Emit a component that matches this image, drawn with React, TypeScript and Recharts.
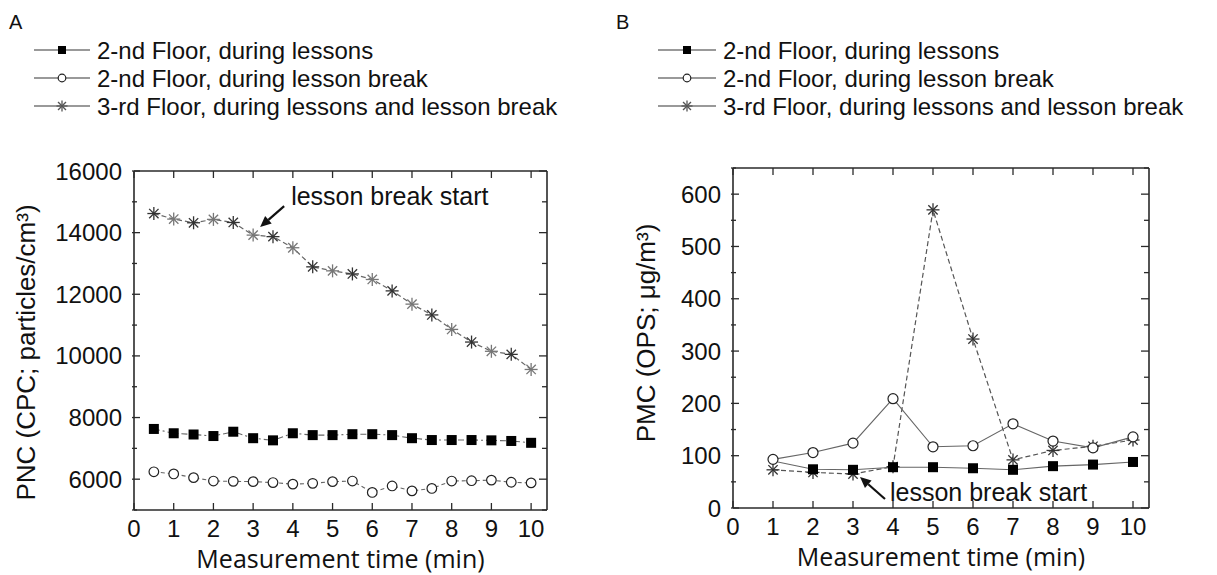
import React from 'react';
import { LineChart, Line, XAxis, YAxis, Legend, ReferenceDot } from 'recharts';

// ---------------- data ----------------
const timeA = [0.5, 1, 1.5, 2, 2.5, 3, 3.5, 4, 4.5, 5, 5.5, 6, 6.5, 7, 7.5, 8, 8.5, 9, 9.5, 10];
const floor2LessonsA = [7630, 7490, 7450, 7400, 7540, 7330, 7260, 7490, 7430, 7430, 7460, 7460, 7430, 7330, 7270, 7270, 7270, 7260, 7240, 7180];
const floor2BreakA = [6240, 6170, 6050, 5940, 5930, 5920, 5890, 5840, 5865, 5920, 5940, 5570, 5780, 5620, 5700, 5940, 5950, 5970, 5900, 5880];
const floor3A = [14620, 14440, 14320, 14430, 14330, 13920, 13870, 13510, 12890, 12760, 12660, 12480, 12110, 11680, 11330, 10860, 10450, 10150, 10050, 9560];

const timeB = [1, 2, 3, 4, 5, 6, 7, 8, 9, 10];
const floor2LessonsB = [90, 74, 73, 78, 78, 76, 73, 80, 83, 88];
const floor2BreakB = [93, 106, 124, 209, 117, 119, 161, 128, 115, 136];
const floor3B = [73, 68, 65, 79, 570, 323, 92, 110, 118, 130];

const seriesNames = [
  '2-nd Floor, during lessons',
  '2-nd Floor, during lesson break',
  '3-rd Floor, during lessons and lesson break',
];
const panelLetters = ['A', 'B'];
const xTicks = [0, 1, 2, 3, 4, 5, 6, 7, 8, 9, 10];
const yTicksA = [5000, 6000, 7000, 8000, 9000, 10000, 11000, 12000, 13000, 14000, 15000, 16000];
const yLabelsA = [6000, 8000, 10000, 12000, 14000, 16000];
const yTicksB = [0, 50, 100, 150, 200, 250, 300, 350, 400, 450, 500, 550, 600, 650];
const yLabelsB = [0, 100, 200, 300, 400, 500, 600];
const xTitle = 'Measurement time (min)';
const yTitleA = 'PNC (CPC; particles/cm³)';
const yTitleB = 'PMC (OPS; μg/m³)';
const annotation = 'lesson break start';
const breakStartA = { x: 3, y: 13920 };
const breakStartB = { x: 3, y: 65 };

const dataA = timeA.map((t, i) => ({ t, lessons: floor2LessonsA[i], brk: floor2BreakA[i], third: floor3A[i] }));
const dataB = timeB.map((t, i) => ({ t, lessons: floor2LessonsB[i], brk: floor2BreakB[i], third: floor3B[i] }));

// ---------------- styling ----------------
const FONT = '"Liberation Sans", Arial, Helvetica, sans-serif';
const TITLE_FONT = '"Open Sans", "Liberation Sans", sans-serif';
const AXIS = '#2a2a2a';
const GAP = 10;
const TICK_FS = 24;
const LEG_FS = 24;
const LEG_ROW0 = 50;
const LEG_STEP = 28;

// ---------------- markers ----------------
const SquareDot = (props: any) => {
  const { cx, cy, skipFirst, index, size = 10 } = props;
  if (cx == null || cy == null) return null;
  if (skipFirst && index === 0) return null;
  return <rect x={cx - size / 2} y={cy - size / 2} width={size} height={size} fill="#000" />;
};
const CircleDot = (props: any) => {
  const { cx, cy, r = 5 } = props;
  if (cx == null || cy == null) return null;
  return <circle cx={cx} cy={cy} r={r} fill="#fff" stroke="#222" strokeWidth={1.2} />;
};
const StarDot = (props: any) => {
  const { cx, cy, s = 6.5, color = '#333' } = props;
  if (cx == null || cy == null) return null;
  const d = s * 0.72;
  return (
    <g stroke={color} strokeWidth={1.3}>
      <line x1={cx - s} x2={cx + s} y1={cy} y2={cy} />
      <line x1={cx} x2={cx} y1={cy - s} y2={cy + s} />
      <line x1={cx - d} x2={cx + d} y1={cy - d} y2={cy + d} />
      <line x1={cx - d} x2={cx + d} y1={cy + d} y2={cy - d} />
    </g>
  );
};

// ---------------- ticks ----------------
const makeBottomTick = (len: number) => (props: any) => {
  const { x, y, payload, index } = props;
  const axisY = y - GAP;
  return (
    <g key={`b${index}`}>
      <line x1={x} x2={x} y1={axisY} y2={axisY - len} stroke={AXIS} strokeWidth={1.3} />
      <text x={x} y={y} dy="0.71em" textAnchor="middle" fontFamily={FONT} fontSize={TICK_FS} fill="#111">
        {payload.value}
      </text>
    </g>
  );
};
const makeLeftTick = (labels: number[]) => (props: any) => {
  const { x, y, payload, index } = props;
  const major = labels.includes(payload.value);
  const axisX = x + GAP;
  return (
    <g key={`l${index}`}>
      <line x1={axisX} x2={axisX + (major ? 8 : 5)} y1={y} y2={y} stroke={AXIS} strokeWidth={1.3} />
      {major && (
        <text x={x} y={y} dy="0.355em" textAnchor="end" fontFamily={FONT} fontSize={TICK_FS} fill="#111">
          {payload.value}
        </text>
      )}
    </g>
  );
};
const makeTopTick = (len: number) => (props: any) => {
  const { x, y, index } = props;
  return <line key={`t${index}`} x1={x} x2={x} y1={y} y2={y + len} stroke={AXIS} strokeWidth={1.3} />;
};
const makeRightTick = (labels: number[]) => (props: any) => {
  const { x, y, payload, index } = props;
  const major = labels.includes(payload.value);
  return <line key={`r${index}`} x1={x} x2={x - (major ? 8 : 5)} y1={y} y2={y} stroke={AXIS} strokeWidth={1.3} />;
};

// ---------------- titles ----------------
const XTitle = (props: any) => {
  const vb = props.viewBox || {};
  return (
    <text x={vb.x + vb.width / 2} y={vb.y + 58} textAnchor="middle" fontFamily={TITLE_FONT} fontSize={25} fill="#111">
      {props.text}
    </text>
  );
};
const YTitle = (props: any) => {
  const vb = props.viewBox || {};
  const cx = vb.x + props.dx;
  const cy = vb.y + vb.height / 2 + props.dy;
  return (
    <text x={cx} y={cy} transform={`rotate(-90 ${cx} ${cy})`} textAnchor="middle" dominantBaseline="central" fontFamily={FONT} fontSize={26} fill="#111">
      {props.text}
    </text>
  );
};

// ---------------- annotation ----------------
const Annotation = (props: any) => {
  const { cx, cy, tip, tail, textPos } = props;
  if (cx == null || cy == null) return null;
  const tx = cx + tip[0], ty = cy + tip[1];
  const sx = cx + tail[0], sy = cy + tail[1];
  const ang = Math.atan2(ty - sy, tx - sx);
  const L = 11, W = 5;
  const bx = tx - L * Math.cos(ang), by = ty - L * Math.sin(ang);
  const px = -Math.sin(ang) * W, py = Math.cos(ang) * W;
  return (
    <g>
      <line x1={sx} y1={sy} x2={bx} y2={by} stroke="#111" strokeWidth={2.2} />
      <polygon points={`${tx},${ty} ${bx + px},${by + py} ${bx - px},${by - py}`} fill="#111" />
      <text x={cx + textPos[0]} y={cy + textPos[1]} dy="0.36em" fontFamily={FONT} fontSize={25} fill="#111">
        {annotation}
      </text>
    </g>
  );
};

// ---------------- legend ----------------
const makeLegend = (cfg: any) => () => {
  const mid = (cfg.sym0 + cfg.sym1) / 2;
  return (
    <svg width={cfg.width} height={125} style={{ display: 'block' }}>
      <text x={cfg.letterX} y={22} dy="0.36em" fontFamily={FONT} fontSize={20} fill="#111">
        {cfg.letter}
      </text>
      {seriesNames.map((name, i) => {
        const y = LEG_ROW0 + i * LEG_STEP;
        return (
          <g key={name}>
            <line x1={cfg.sym0} x2={cfg.sym1} y1={y} y2={y} stroke="#777" strokeWidth={1.3} />
            {i === 0 && <SquareDot cx={mid} cy={y} size={8} />}
            {i === 1 && <CircleDot cx={mid} cy={y} r={3.8} />}
            {i === 2 && <StarDot cx={mid} cy={y} s={5.5} color="#555" />}
            <text x={cfg.textX} y={y} dy="0.36em" fontFamily={FONT} fontSize={LEG_FS} fill="#111">
              {name}
            </text>
          </g>
        );
      })}
    </svg>
  );
};

const legendProps = {
  layout: 'vertical' as const,
  align: 'center' as const,
  verticalAlign: 'middle' as const,
};

export default function App() {
  return (
    <div style={{ position: 'absolute', left: 0, top: 0, width: 1217, height: 575, background: '#fff', overflow: 'hidden' }}>
      {/* Panel A */}
      <div style={{ position: 'absolute', left: 0, top: 0 }}>
        <LineChart width={600} height={575} data={dataA} margin={{ top: 170, right: 52, bottom: 0, left: 0 }}>
          <Legend
            {...legendProps}
            content={makeLegend({ width: 600, letter: panelLetters[0], letterX: 9, sym0: 34, sym1: 90, textX: 97 })}
            wrapperStyle={{ left: 0, top: 0, width: 600, height: 125 }}
          />
          <XAxis
            type="number"
            dataKey="t"
            domain={[0, 10.4]}
            ticks={xTicks}
            interval={0}
            allowDataOverflow
            height={65}
            tickSize={0}
            tickMargin={GAP}
            tickLine={false}
            axisLine={{ stroke: AXIS, strokeWidth: 1.6 }}
            tick={makeBottomTick(7)}
            label={<XTitle text={xTitle} />}
          />
          <XAxis
            xAxisId="top"
            orientation="top"
            type="number"
            dataKey="t"
            domain={[0, 10.4]}
            ticks={xTicks}
            interval={0}
            allowDataOverflow
            height={1}
            tickSize={0}
            tickMargin={0}
            tickLine={false}
            axisLine={{ stroke: AXIS, strokeWidth: 1.6 }}
            tick={makeTopTick(7)}
          />
          <YAxis
            type="number"
            domain={[5000, 16000]}
            ticks={yTicksA}
            interval={0}
            allowDataOverflow
            width={134}
            tickSize={0}
            tickMargin={12}
            tickLine={false}
            axisLine={{ stroke: AXIS, strokeWidth: 1.6 }}
            tick={makeLeftTick(yLabelsA)}
            label={<YTitle text={yTitleA} dx={26} dy={12} />}
          />
          <YAxis
            yAxisId="right"
            orientation="right"
            type="number"
            domain={[5000, 16000]}
            ticks={yTicksA}
            interval={0}
            allowDataOverflow
            width={1}
            tickSize={0}
            tickMargin={0}
            tickLine={false}
            axisLine={{ stroke: AXIS, strokeWidth: 1.6 }}
            tick={makeRightTick(yLabelsA)}
          />
          <Line
            dataKey="lessons"
            type="linear"
            stroke="#666"
            strokeWidth={1.1}
            strokeDasharray="6 3 2 3"
            dot={(p: any) => <SquareDot key={`sa${p.index}`} {...p} size={10} />}
            activeDot={false}
            isAnimationActive={false}
          />
          <Line
            dataKey="brk"
            type="linear"
            stroke="#666"
            strokeWidth={1.1}
            strokeDasharray="4 3"
            dot={(p: any) => <CircleDot key={`ca${p.index}`} {...p} r={4.8} />}
            activeDot={false}
            isAnimationActive={false}
          />
          <Line
            dataKey="third"
            type="linear"
            stroke="#666"
            strokeWidth={1.2}
            strokeDasharray="5 3"
            dot={(p: any) => <StarDot key={`xa${p.index}`} {...p} s={6.5} color={p.index % 2 ? '#777' : '#333'} />}
            activeDot={false}
            isAnimationActive={false}
          />
          <ReferenceDot
            x={breakStartA.x}
            y={breakStartA.y}
            r={0}
            ifOverflow="visible"
            shape={(p: any) => <Annotation {...p} tip={[7, -8]} tail={[31, -29]} textPos={[38, -39]} />}
          />
        </LineChart>
      </div>

      {/* Panel B */}
      <div style={{ position: 'absolute', left: 600, top: 0 }}>
        <LineChart width={617} height={575} data={dataB} margin={{ top: 167, right: 67, bottom: 0, left: 0 }}>
          <Legend
            {...legendProps}
            content={makeLegend({ width: 617, letter: panelLetters[1], letterX: 16, sym0: 58, sym1: 116, textX: 123 })}
            wrapperStyle={{ left: 0, top: 0, width: 617, height: 125 }}
          />
          <XAxis
            type="number"
            dataKey="t"
            domain={[0, 10.4]}
            ticks={xTicks}
            interval={0}
            allowDataOverflow
            height={67}
            tickSize={0}
            tickMargin={GAP}
            tickLine={false}
            axisLine={{ stroke: AXIS, strokeWidth: 1.6 }}
            tick={makeBottomTick(7)}
            label={<XTitle text={xTitle} />}
          />
          <XAxis
            xAxisId="top"
            orientation="top"
            type="number"
            dataKey="t"
            domain={[0, 10.4]}
            ticks={xTicks}
            interval={0}
            allowDataOverflow
            height={1}
            tickSize={0}
            tickMargin={0}
            tickLine={false}
            axisLine={{ stroke: AXIS, strokeWidth: 1.6 }}
            tick={makeTopTick(7)}
          />
          <YAxis
            type="number"
            domain={[0, 650]}
            ticks={yTicksB}
            interval={0}
            allowDataOverflow
            width={133}
            tickSize={0}
            tickMargin={12}
            tickLine={false}
            axisLine={{ stroke: AXIS, strokeWidth: 1.6 }}
            tick={makeLeftTick(yLabelsB)}
            label={<YTitle text={yTitleB} dx={46} dy={-5} />}
          />
          <YAxis
            yAxisId="right"
            orientation="right"
            type="number"
            domain={[0, 650]}
            ticks={yTicksB}
            interval={0}
            allowDataOverflow
            width={1}
            tickSize={0}
            tickMargin={0}
            tickLine={false}
            axisLine={{ stroke: AXIS, strokeWidth: 1.6 }}
            tick={makeRightTick(yLabelsB)}
          />
          <Line
            dataKey="third"
            type="linear"
            stroke="#555"
            strokeWidth={1.2}
            strokeDasharray="5 3"
            dot={(p: any) => <StarDot key={`xb${p.index}`} {...p} s={6.5} color="#333" />}
            activeDot={false}
            isAnimationActive={false}
          />
          <Line
            dataKey="lessons"
            type="linear"
            stroke="#666"
            strokeWidth={1.1}
            dot={(p: any) => <SquareDot key={`sb${p.index}`} {...p} size={10} skipFirst />}
            activeDot={false}
            isAnimationActive={false}
          />
          <Line
            dataKey="brk"
            type="linear"
            stroke="#666"
            strokeWidth={1.1}
            dot={(p: any) => <CircleDot key={`cb${p.index}`} {...p} r={5} />}
            activeDot={false}
            isAnimationActive={false}
          />
          <ReferenceDot
            x={breakStartB.x}
            y={breakStartB.y}
            r={0}
            ifOverflow="visible"
            shape={(p: any) => <Annotation {...p} tip={[7, 3]} tail={[32, 25]} textPos={[37, 18]} />}
          />
        </LineChart>
      </div>
    </div>
  );
}
